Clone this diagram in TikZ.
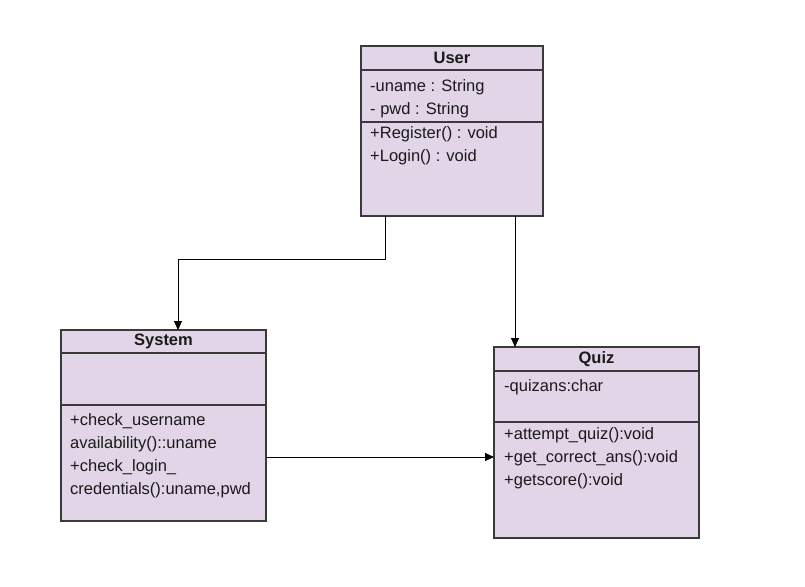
\documentclass[tikz,border=0pt]{standalone}
\usepackage{fontspec}
\setmainfont{Liberation Sans}
\usepackage{xcolor}
\definecolor{ClassFill}{HTML}{E1D5E7}
\definecolor{ClassLine}{HTML}{3A3A3A}
\definecolor{TextDark}{HTML}{1A1A1A}
\usetikzlibrary{arrows.meta, positioning}
\tikzset{
  class part/.style={
    rectangle, draw=ClassLine, fill=ClassFill, line width=1.3pt,
    inner sep=0pt, outer sep=0pt, minimum width=#1
  },
  class head/.style={
    class part=#1, font=\fontsize{16.5}{20}\selectfont\bfseries, text=TextDark
  },
  member/.style={
    align=left, inner sep=0pt, text=TextDark,
    font=\fontsize{16.5}{23}\selectfont
  },
  arrow/.style={-{Triangle[length=9pt, width=8pt]}, line width=1pt, color=black},
}

\begin{document}
\begin{tikzpicture}[x=1pt, y=-1pt]
  \useasboundingbox[fill=white] (0,0) rectangle (805,586);

  % User
  \node[class head=182pt, minimum height=24pt, anchor=north west] (user) at (361,46) {User};
  \node[class part=182pt, minimum height=52pt, below=0pt of user] (user attr) {};
  \node[class part=182pt, minimum height=94pt, below=0pt of user attr] (user meth) {};
  \node[member, below right=9pt and 9pt of user attr.north west] (user attr text)
    {-uname : String\\- pwd : String};
  \node[member, below right=4pt and 9pt of user meth.north west] (user meth text)
    {+Register() : void\\+Login() : void};

  % System
  \node[class head=205pt, minimum height=23pt, anchor=north west] (system) at (61,330) {System};
  \node[class part=205pt, minimum height=52pt, below=0pt of system] (system attr) {};
  \node[class part=205pt, minimum height=116pt, below=0pt of system attr] (system meth) {};
  \node[member, below right=8pt and 9pt of system meth.north west] (system meth text)
    {+check\_username\\availability()::uname\\+check\_login\_\\credentials():uname,pwd};

  % Quiz
  \node[class head=205pt, minimum height=24pt, anchor=north west] (quiz) at (494,347) {Quiz};
  \node[class part=205pt, minimum height=51pt, below=0pt of quiz] (quiz attr) {};
  \node[class part=205pt, minimum height=116pt, below=0pt of quiz attr] (quiz meth) {};
  \node[member, below right=8pt and 10pt of quiz attr.north west] (quiz attr text)
    {-quizans:char};
  \node[member, below right=5pt and 10pt of quiz meth.north west] (quiz meth text)
    {+attempt\_quiz():void\\+get\_correct\_ans():void\\+getscore():void};

  % connectors
  \draw[arrow] ([xshift=24pt]user meth.south west) -- ++(0,43) -| ([xshift=14.5pt]system.north);
  \draw[arrow] ([xshift=154pt]user meth.south west) -- ([xshift=21pt]quiz.north west);
  \draw[arrow] ([yshift=6pt]system meth.east) -- ([yshift=6pt]system meth.east -| quiz meth.west);
\end{tikzpicture}
\end{document}
